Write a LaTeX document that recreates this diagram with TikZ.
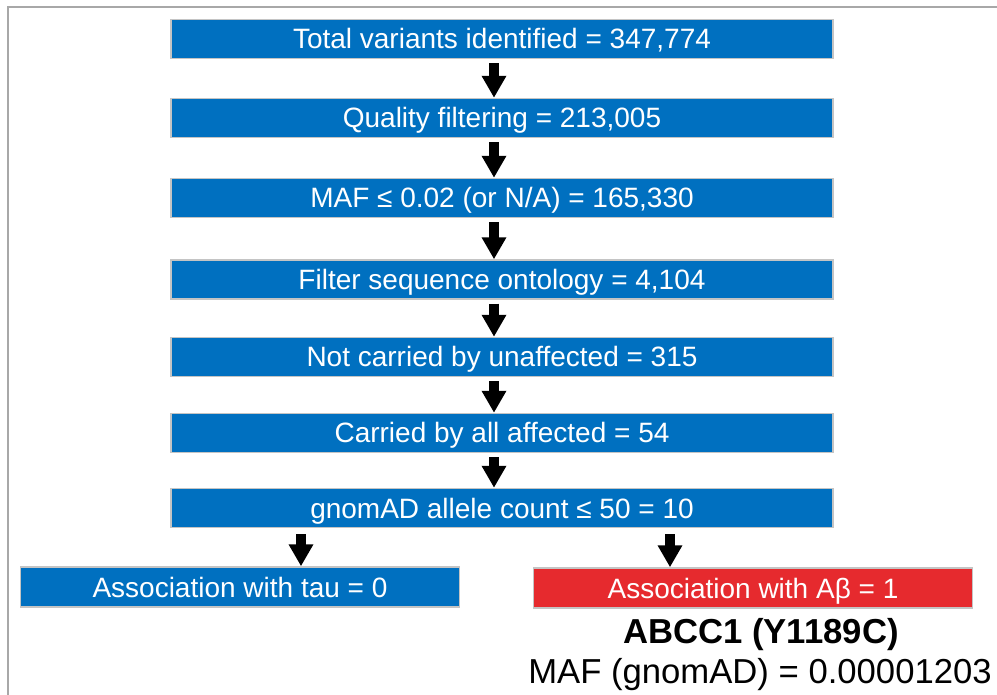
\documentclass[tikz,border=0pt]{standalone}
\usepackage{fontspec}
\setmainfont{Liberation Sans}
\usetikzlibrary{arrows.meta}
\definecolor{stageblue}{HTML}{0070C0}
\definecolor{hitred}{HTML}{E62A2E}
\definecolor{boxedge}{HTML}{C4C4C4}
\definecolor{framegray}{HTML}{A8A8A8}
\begin{document}
\begin{tikzpicture}[x=0.75pt,y=-0.75pt,
  stage/.style={draw=boxedge,line width=1.1pt,fill=stageblue,text=white,rectangle,
    minimum width=496.5pt,minimum height=29.25pt,inner sep=0pt,
    text height=15pt,text depth=0pt,font=\fontsize{21}{25}\selectfont},
  branch/.style={stage,minimum width=329pt,minimum height=30pt},
  flow/.style={-{Triangle[length=16.5pt,width=17.5pt]},line width=7.5pt,shorten <=3pt},
  note/.style={inner sep=0pt,text height=18.6pt,text depth=0pt,font=\fontsize{26}{30}\selectfont}]
\useasboundingbox (0,0) rectangle (997,695);
\draw[framegray,line width=1.5pt] (8,695) -- (8,7) -- (997,7);
% filtering steps
\node[stage] (total) at (502,39) {Total variants identified = 347,774};
\node[stage] (quality) at (502,118) {Quality filtering = 213,005};
\node[stage] (maf) at (502,198) {MAF ≤ 0.02 (or N/A) = 165,330};
\node[stage] (onto) at (502,279.5) {Filter sequence ontology = 4,104};
\node[stage] (unaff) at (502,357) {Not carried by unaffected = 315};
\node[stage] (aff) at (502,433) {Carried by all affected = 54};
\node[stage] (gnomad) at (502,508) {gnomAD allele count ≤ 50 = 10};
\node[branch] (tau) at (240,587) {Association with tau = 0};
\node[branch,fill=hitred] (abeta) at (753,588) {Association with Aβ = 1};
% the hit under the red box
\node[note,font=\bfseries\fontsize{26}{30}\selectfont] (gene) at (761,631.5) {ABCC1 (Y1189C)};
\node[note] (freq) at (760,671.5) {MAF (gnomAD) = 0.00001203};
\coordinate (ax) at (494,0);
\coordinate (al) at (301,0);
\coordinate (ar) at (670,0);
\foreach \a/\b in {total/quality,quality/maf,maf/onto,onto/unaff,unaff/aff,aff/gnomad} {
  \draw[flow] (\a.south -| ax) -- (\b.north -| ax);
}
\draw[flow,shorten <=4.5pt] (gnomad.south -| al) -- (tau.north -| al);
\draw[flow,shorten <=4.5pt] (gnomad.south -| ar) -- (abeta.north -| ar);
\end{tikzpicture}
\end{document}
